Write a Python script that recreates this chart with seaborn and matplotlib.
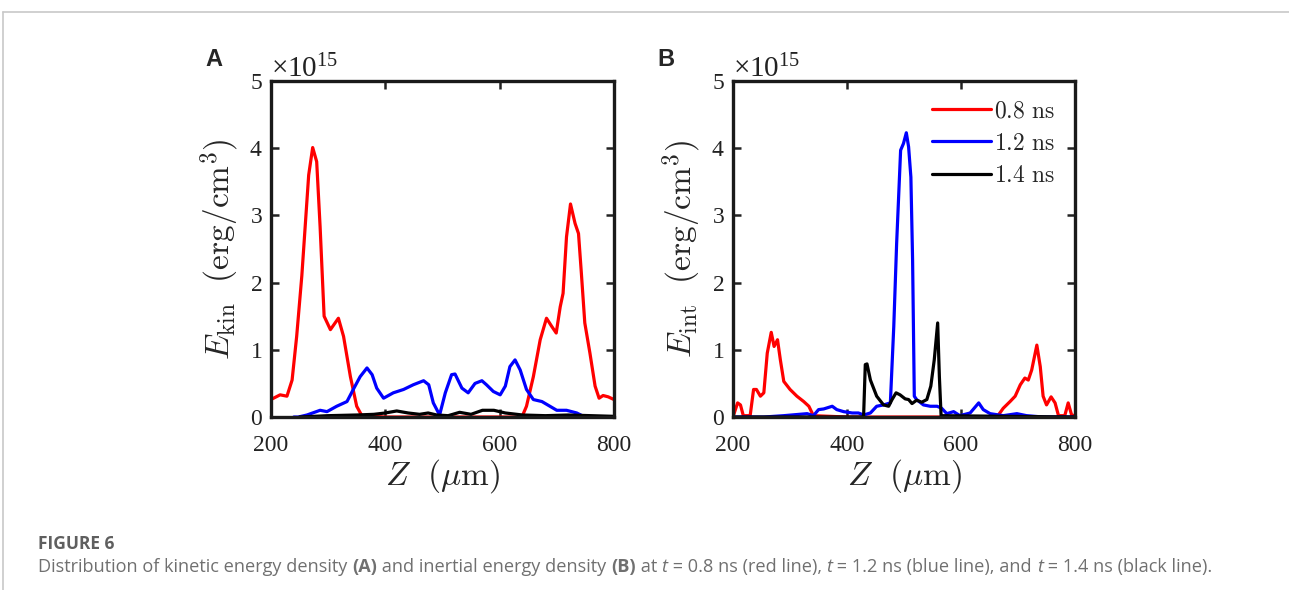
import numpy as np
import matplotlib
matplotlib.use("Agg")
import matplotlib.pyplot as plt
import seaborn as sns
from matplotlib.lines import Line2D
from matplotlib.ticker import ScalarFormatter

# values, energy density in units of 1e15 erg/cm^3
SCALE = 1e15

# panel A: kinetic energy density
a_red_z = [200, 216, 228, 237, 245, 254, 266, 273, 280, 286, 293, 304, 318, 327, 339, 350, 359,
           400, 500, 600, 639, 647, 659, 671, 682, 691, 699, 706, 711, 717, 724, 732, 738, 743,
           749, 758, 767, 774, 781, 790, 800]
a_red_e = [0.26, 0.33, 0.31, 0.55, 1.2, 2.1, 3.6, 4.01, 3.8, 2.83, 1.5, 1.3, 1.47, 1.2, 0.6, 0.16, 0.02,
           0.0, 0.0, 0.0, 0.0, 0.16, 0.6, 1.15, 1.47, 1.35, 1.25, 1.64, 1.84, 2.68, 3.17, 2.88, 2.73, 2.14,
           1.4, 0.95, 0.46, 0.28, 0.32, 0.3, 0.26]

a_blue_z = [240, 248, 263, 286, 298, 315, 333, 344, 356, 368, 377, 385, 397, 414, 432, 449, 467, 476,
            484, 495, 505, 516, 522, 534, 545, 557, 569, 577, 589, 601, 610, 618, 627, 636, 647, 659,
            674, 688, 700, 717, 735, 749, 800]
a_blue_e = [0.0, 0.0, 0.03, 0.1, 0.08, 0.16, 0.23, 0.41, 0.6, 0.73, 0.63, 0.43, 0.28, 0.36, 0.41, 0.48,
            0.54, 0.48, 0.21, 0.03, 0.36, 0.63, 0.64, 0.43, 0.36, 0.5, 0.54, 0.48, 0.38, 0.33, 0.46, 0.75,
            0.85, 0.7, 0.41, 0.26, 0.23, 0.16, 0.1, 0.1, 0.06, 0.0, 0.0]

a_black_z = [250, 300, 350, 380, 400, 420, 440, 460, 475, 490, 510, 530, 550, 570, 590, 610, 640,
             680, 720, 760, 800]
a_black_e = [0.0, 0.02, 0.03, 0.04, 0.06, 0.09, 0.06, 0.04, 0.06, 0.03, 0.02, 0.07, 0.04, 0.1, 0.1,
             0.06, 0.03, 0.02, 0.03, 0.02, 0.01]

# panel B: internal energy density
b_red_z = [201, 208, 213, 218, 230, 236, 241, 248, 254, 260, 267, 272, 278, 283, 289, 300, 312, 324,
           333, 341, 400, 500, 600, 663, 674, 686, 695, 704, 712, 718, 724, 733, 739, 744, 750, 758,
           765, 771, 782, 788, 794, 800]
b_red_e = [0.03, 0.21, 0.18, 0.02, 0.02, 0.41, 0.41, 0.31, 0.36, 0.95, 1.26, 1.05, 1.15, 0.85, 0.53,
           0.41, 0.31, 0.23, 0.16, 0.02, 0.0, 0.0, 0.0, 0.0, 0.13, 0.23, 0.31, 0.48, 0.58, 0.55, 0.7,
           1.07, 0.75, 0.31, 0.18, 0.3, 0.21, 0.02, 0.02, 0.21, 0.03, 0.02]

b_blue_z = [200, 254, 289, 330, 341, 350, 359, 374, 382, 394, 409, 420, 429, 441, 452, 464, 476, 482,
            487, 494, 499, 504, 508, 512, 515, 518, 522, 534, 546, 558, 566, 575, 587, 598, 616, 631,
            639, 651, 674, 698, 715, 744, 800]
b_blue_e = [0.0, 0.0, 0.02, 0.05, 0.02, 0.11, 0.12, 0.16, 0.11, 0.08, 0.06, 0.06, 0.03, 0.06, 0.16,
            0.18, 0.21, 1.35, 2.58, 3.97, 4.07, 4.23, 4.02, 3.57, 2.34, 0.31, 0.26, 0.18, 0.16, 0.16,
            0.13, 0.05, 0.08, 0.02, 0.06, 0.21, 0.11, 0.05, 0.02, 0.05, 0.02, 0.0, 0.0]

b_black_z = [200, 429, 432, 435, 441, 452, 464, 473, 479, 486, 493, 502, 508, 514, 522, 531, 540, 547,
             553, 559, 562, 565, 800]
b_black_e = [0.0, 0.0, 0.78, 0.79, 0.55, 0.31, 0.18, 0.16, 0.26, 0.36, 0.33, 0.27, 0.26, 0.2, 0.25,
             0.22, 0.26, 0.46, 0.85, 1.4, 0.6, 0.02, 0.0]

labels = [r"$0.8\ \mathrm{ns}$", r"$1.2\ \mathrm{ns}$", r"$1.4\ \mathrm{ns}$"]
colors = ["#ff0000", "#0000ff", "#000000"]
x_ticks = [200, 400, 600, 800]
y_ticks = [0, 1, 2, 3, 4, 5]

sns.set_style("ticks")
plt.rcParams["font.family"] = ["Liberation Serif", "DejaVu Serif"]
plt.rcParams["mathtext.fontset"] = "custom"
plt.rcParams["mathtext.rm"] = "Liberation Serif"
plt.rcParams["mathtext.it"] = "Liberation Serif:italic"
plt.rcParams["mathtext.bf"] = "Liberation Serif:bold"

fig = plt.figure(figsize=(12.89, 5.90), dpi=100)
ax_a = fig.add_axes([0.2102, 0.2932, 0.2661, 0.5695])
ax_b = fig.add_axes([0.5687, 0.2932, 0.2653, 0.5695])

panels = [
    (ax_a, [(a_red_z, a_red_e), (a_blue_z, a_blue_e), (a_black_z, a_black_e)],
     r"$E_{\rm kin}\ \ (\mathrm{erg/cm}^3)$"),
    (ax_b, [(b_red_z, b_red_e), (b_blue_z, b_blue_e), (b_black_z, b_black_e)],
     r"$E_{\rm int}\ \ (\mathrm{erg/cm}^3)$"),
]

for ax, series, ylab in panels:
    for (z, e), c, lab in zip(series, colors, labels):
        sns.lineplot(x=z, y=np.array(e) * SCALE, ax=ax, color=c, lw=2.3, label=lab)
    ax.set_xlim(200, 800)
    ax.set_ylim(0, 5 * SCALE)
    ax.set_xticks(x_ticks)
    ax.set_yticks(np.array(y_ticks) * SCALE)
    fmt = ScalarFormatter(useMathText=True)
    fmt.set_powerlimits((0, 0))
    ax.yaxis.set_major_formatter(fmt)
    ax.yaxis.get_offset_text().set_fontsize(21)
    ax.tick_params(direction="in", length=6, width=1.8, top=True, right=True,
                   labelsize=17, colors="#222222")
    ax.tick_params(axis="x", pad=13)
    ax.tick_params(axis="y", pad=6)
    for sp in ax.spines.values():
        sp.set_linewidth(2.4)
        sp.set_color("#1a1a1a")
    ax.set_xlabel(r"$Z\ \ (\mu\mathrm{m})$", fontsize=24, math_fontfamily="cm", labelpad=1)
    ax.set_ylabel(ylab, fontsize=24, math_fontfamily="cm", labelpad=6)
    ax.get_legend().remove()

leg = ax_b.legend(loc="upper right", bbox_to_anchor=(1.0, 1.0), frameon=False, fontsize=17,
                  handlelength=2.5, handletextpad=0.15, labelspacing=0.45, borderaxespad=0.45)
for t in leg.get_texts():
    t.set_math_fontfamily("cm")
for h in leg.get_lines():
    h.set_linewidth(2.3)

fig.text(214 / 1289, 1 - 60 / 590, "A", fontsize=17, fontweight="bold", family="Liberation Sans",
         ha="center", va="center")
fig.text(666 / 1289, 1 - 60 / 590, "B", fontsize=17, fontweight="bold", family="Liberation Sans",
         ha="center", va="center")

# page frame lines
fig.add_artist(Line2D([3 / 1289, 1], [1 - 11.5 / 590, 1 - 11.5 / 590], transform=fig.transFigure,
                      color="#c8c8c8", lw=1.2))
fig.add_artist(Line2D([3 / 1289, 3 / 1289], [0, 1 - 11.5 / 590], transform=fig.transFigure,
                      color="#c8c8c8", lw=1.2))

# caption
fig.text(38 / 1289, 1 - 544 / 590, "FIGURE 6", fontsize=12.5, fontweight="bold",
         family="Open Sans", color="#5f5f5f", va="center")
pieces = [
    ("Distribution of kinetic energy density ", "normal", "normal"),
    ("(A)", "bold", "normal"),
    (" and inertial energy density ", "normal", "normal"),
    ("(B)", "bold", "normal"),
    (" at ", "normal", "normal"),
    ("t", "normal", "italic"),
    (" = 0.8 ns (red line), ", "normal", "normal"),
    ("t", "normal", "italic"),
    (" = 1.2 ns (blue line), and ", "normal", "normal"),
    ("t", "normal", "italic"),
    (" = 1.4 ns (black line).", "normal", "normal"),
]
last = None
for txt, w, st in pieces:
    kw = dict(fontsize=13.1, family="Open Sans", color="#707070", fontweight=w, fontstyle=st)
    if last is None:
        last = fig.text(38 / 1289, 1 - 576 / 590, txt, va="bottom", **kw)
    else:
        last = ax_a.annotate(txt, xy=(1, 0), xycoords=last, va="bottom", ha="left",
                             annotation_clip=False, **kw)

fig.savefig("out.png", dpi=100)
